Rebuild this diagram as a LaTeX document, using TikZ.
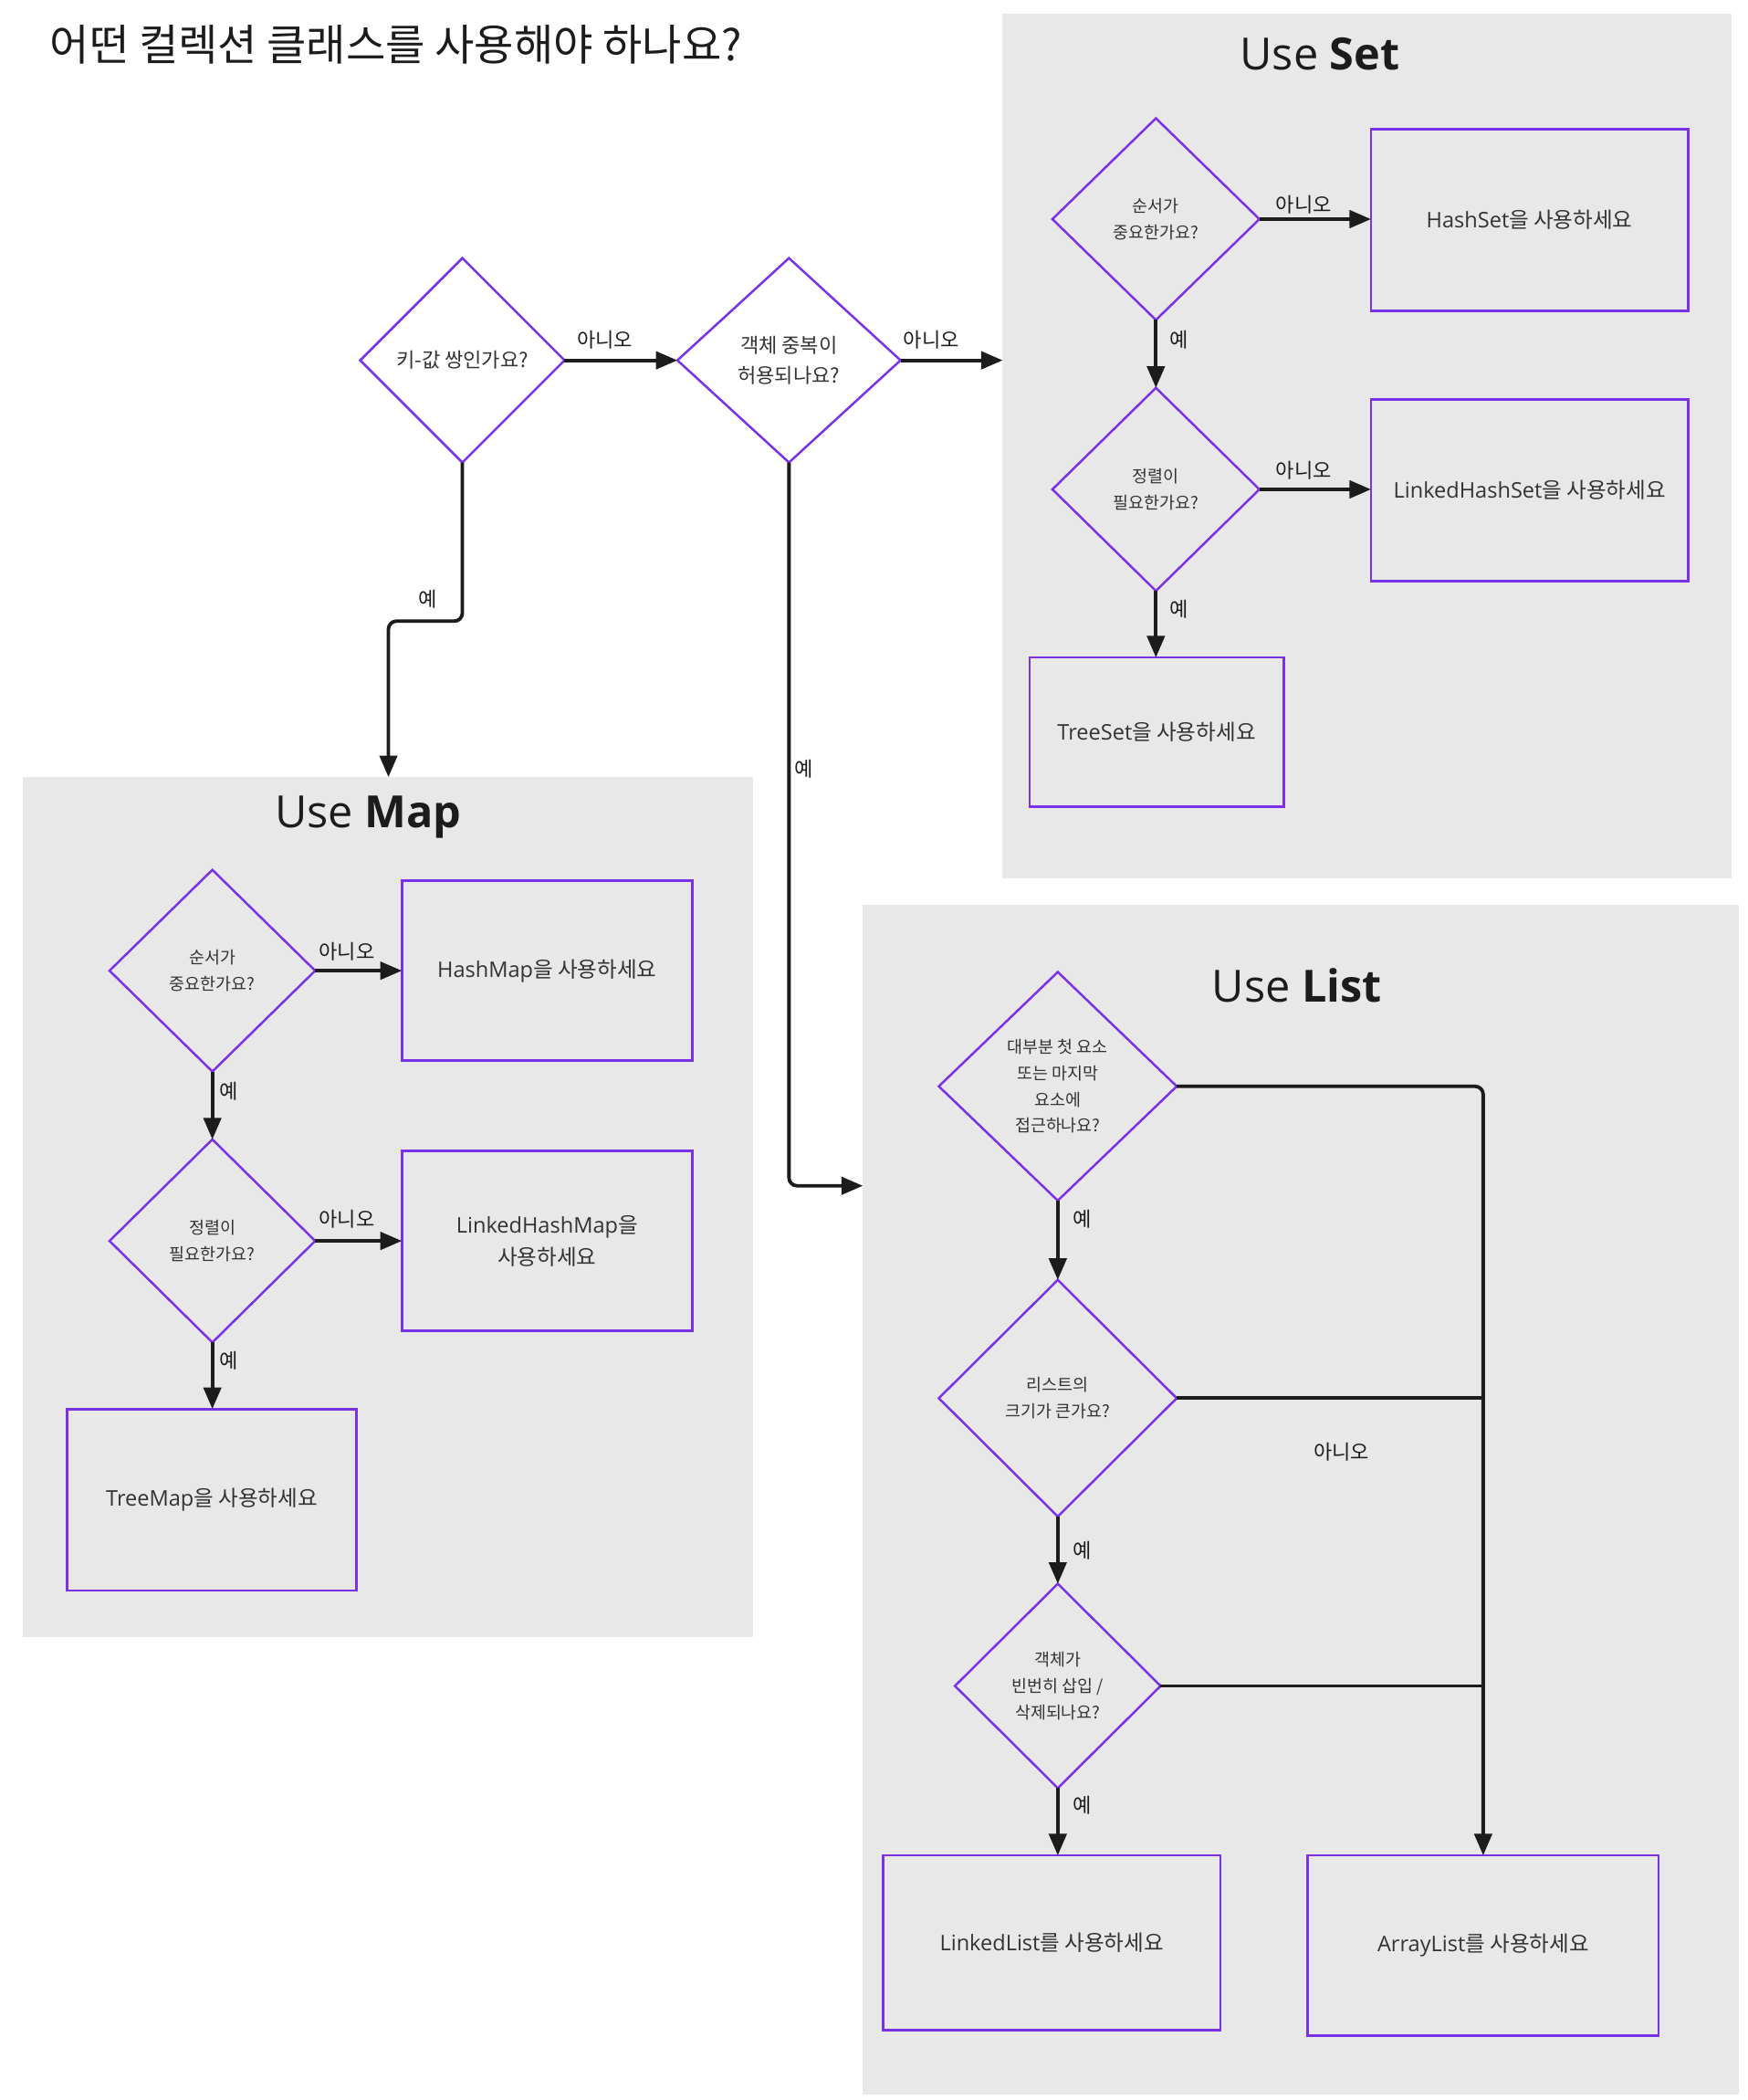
\documentclass[tikz,border=0pt]{standalone}
\usepackage{fontspec}
\setmainfont{Noto Sans CJK KR}
\newfontfamily\en{Open Sans}
\usetikzlibrary{shapes.geometric,arrows.meta}

\definecolor{purp}{RGB}{122,50,230}
\definecolor{panelgray}{RGB}{232,232,232}
\definecolor{ink}{RGB}{28,28,28}
\definecolor{txt}{RGB}{51,51,51}

\begin{document}
\begin{tikzpicture}[x=1pt,y=-1pt,
  panel/.style={fill=panelgray, draw=none, inner sep=0pt, outer sep=0pt, anchor=north west},
  dia/.style={diamond, draw=purp, line width=1.7pt, inner sep=0pt, outer sep=0pt, align=center, text=txt},
  box/.style={rectangle, draw=purp, line width=1.9pt, inner sep=0pt, outer sep=0pt, align=center, text=txt,
    font=\fontsize{16}{24}\selectfont},
  arr/.style={draw=ink, line width=2.6pt, -{Triangle[length=16pt,width=13pt]}},
  conn/.style={draw=ink, line width=2.6pt},
  lbl/.style={text=ink, inner sep=0pt, font=\fontsize{15}{18}\selectfont},
  bigq/.style={font=\fontsize{15}{22}\selectfont},
  smallq/.style={font=\fontsize{12.5}{19.5}\selectfont},
  ptitle/.style={text=ink, inner sep=0pt, font=\en\fontsize{33}{40}\selectfont},
]
\useasboundingbox (0,0) rectangle (1300,1562);
\fill[white] (0,0) rectangle (1300,1562);

% panels
\node (setp) [panel, minimum width=542pt, minimum height=643pt] at (746,10) {};
\node (mapp) [panel, minimum width=543pt, minimum height=640pt] at (17,578) {};
\node (listp) [panel, minimum width=652pt, minimum height=885pt] at (642,673) {};

% title
\node (title) [anchor=west, inner sep=0pt, text=ink, font=\fontsize{32}{38}\selectfont] at (37,33)
  {어떤 컬렉션 클래스를 사용해야 하나요?};

% top decisions
\node (d1) [dia, bigq, minimum width=152pt, minimum height=152pt] at (344,268) {키-값 쌍인가요?};
\node (d2) [dia, bigq, minimum width=166pt, minimum height=152pt] at (587,268) {객체 중복이\\허용되나요?};

% Set panel
\node (settitle) [ptitle] at (982,40) {Use \textbf{Set}};
\node (s1) [dia, smallq, minimum width=154pt, minimum height=150pt] at (860,163) {순서가\\중요한가요?};
\node (hs) [box, minimum width=236pt, minimum height=135pt] at (1138,163.5) {{\en HashSet}을 사용하세요};
\node (s2) [dia, smallq, minimum width=154pt, minimum height=151pt] at (860,364) {정렬이\\필요한가요?};
\node (lhs) [box, minimum width=236pt, minimum height=135pt] at (1138,364.5) {{\en LinkedHashSet}을 사용하세요};
\node (ts) [box, minimum width=189pt, minimum height=111pt] at (860.5,544.5) {{\en TreeSet}을 사용하세요};

% Map panel
\node (maptitle) [ptitle] at (274,608) {Use \textbf{Map}};
\node (m1) [dia, smallq, minimum width=153pt, minimum height=150pt] at (158,722) {순서가\\중요한가요?};
\node (hm) [box, minimum width=216pt, minimum height=134pt] at (407,722) {{\en HashMap}을 사용하세요};
\node (m2) [dia, smallq, minimum width=153pt, minimum height=151pt] at (158,923) {정렬이\\필요한가요?};
\node (lhm) [box, minimum width=216pt, minimum height=134pt] at (407,923) {{\en LinkedHashMap}을\\사용하세요};
\node (tm) [box, minimum width=215pt, minimum height=135pt] at (157.5,1115.5) {{\en TreeMap}을 사용하세요};

% List panel
\node (listtitle) [ptitle] at (965,733) {Use \textbf{List}};
\node (l1) [dia, smallq, minimum width=177pt, minimum height=170pt] at (787,808) {대부분 첫 요소\\또는 마지막\\요소에\\접근하나요?};
\node (l2) [dia, smallq, minimum width=177pt, minimum height=176pt] at (787,1040) {리스트의\\크기가 큰가요?};
\node (l3) [dia, smallq, minimum width=153pt, minimum height=152pt] at (787,1254) {객체가\\빈번히 삽입 /\\삭제되나요?};
\node (ll) [box, minimum width=251pt, minimum height=130pt] at (782.5,1445) {{\en LinkedList}를 사용하세요};
\node (al) [box, minimum width=261pt, minimum height=134pt] at (1103.5,1447) {{\en ArrayList}를 사용하세요};

% connectors: top
\coordinate (k1) at (289,462);
\coordinate (k2) at (642,882);
\draw[arr] (d1.east) -- (d1.east -| d2.west);
\draw[arr] (d2.east) -- (d2.east -| setp.west);
\draw[arr, rounded corners=6pt] (d1.south) |- (k1) -- (k1 |- mapp.north);
\draw[arr, rounded corners=6pt] (d2.south) |- (k2);
\node (n1) [lbl] at (450,253) {아니오};
\node (n2) [lbl] at (693,253) {아니오};
\node (y1) [lbl] at (318,446) {예};
\node (y2) [lbl] at (598,572) {예};

% connectors: Set
\draw[arr] (s1.east) -- (s1.east -| hs.west);
\draw[arr] (s1.south) -- (s2.north);
\draw[arr] (s2.east) -- (s2.east -| lhs.west);
\draw[arr] (s2.south) -- (s2.south |- ts.north);
\node (sn1) [lbl] at (970,152) {아니오};
\node (sn2) [lbl] at (970,350) {아니오};
\node (sy1) [lbl] at (877,253) {예};
\node (sy2) [lbl] at (877,453) {예};

% connectors: Map
\draw[arr] (m1.east) -- (m1.east -| hm.west);
\draw[arr] (m1.south) -- (m2.north);
\draw[arr] (m2.east) -- (m2.east -| lhm.west);
\draw[arr] (m2.south) -- (m2.south |- tm.north);
\node (mn1) [lbl] at (258,708) {아니오};
\node (mn2) [lbl] at (258,907) {아니오};
\node (my1) [lbl] at (170,812) {예};
\node (my2) [lbl] at (170,1012) {예};

% connectors: List
\draw[arr] (l1.south) -- (l2.north);
\draw[arr] (l2.south) -- (l3.north);
\draw[arr] (l3.south) -- (l3.south |- ll.north);
\draw[arr, rounded corners=6pt] (l1.east) -| (al.north);
\draw[conn] (l2.east) -- (l2.east -| al.north);
\draw[conn] (l3.east) -- (l3.east -| al.north);
\node (ly1) [lbl] at (805,907) {예};
\node (ly2) [lbl] at (805,1153) {예};
\node (ly3) [lbl] at (805,1343) {예};
\node (ln) [lbl] at (998,1080) {아니오};
\end{tikzpicture}
\end{document}
